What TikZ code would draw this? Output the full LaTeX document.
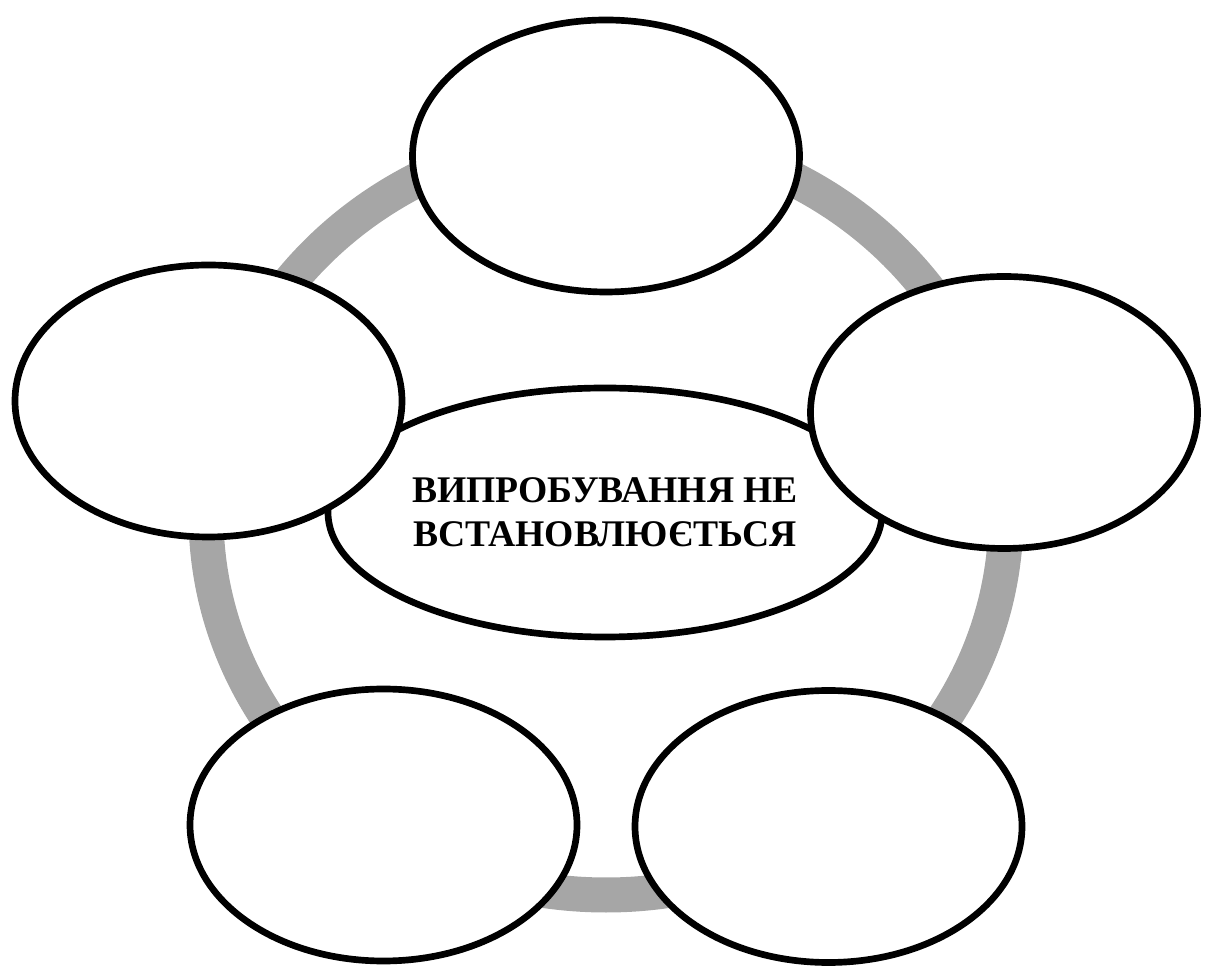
\documentclass[tikz,border=0pt]{standalone}
\usepackage{fontspec}
\setmainfont{Liberation Serif}
\usetikzlibrary{shapes.geometric}
\definecolor{ringgray}{RGB}{166,166,166}

\begin{document}
\begin{tikzpicture}[
  blob/.style={ellipse, draw, line width=1.9pt, fill=white, inner sep=0pt, minimum width=3.87cm, minimum height=2.72cm},
  hub/.style={blob, minimum width=5.54cm, minimum height=2.49cm, align=center, font=\fontsize{10.7}{12.6}\selectfont\bfseries},
  ring/.style={draw=ringgray, line width=0.35cm},
]
\useasboundingbox (0,0) rectangle (12.13,9.76);

% === Ring ===
\coordinate (o) at (6.06,4.61);
\draw[ring] (o) ellipse [x radius=4.0cm, y radius=3.8cm];

% === Centre ===
\node[hub] (c) at (6.05,4.635) {ВИПРОБУВАННЯ НЕ\\ВСТАНОВЛЮЄТЬСЯ};

% === Outer ellipses ===
\node[blob] (t) at (6.06,8.20) {};
\node[blob] (l) at (2.085,5.75) {};
\node[blob] (r) at (10.04,5.635) {};
\node[blob] (bl) at (3.835,1.51) {};
\node[blob] (br) at (8.285,1.495) {};

\end{tikzpicture}
\end{document}
